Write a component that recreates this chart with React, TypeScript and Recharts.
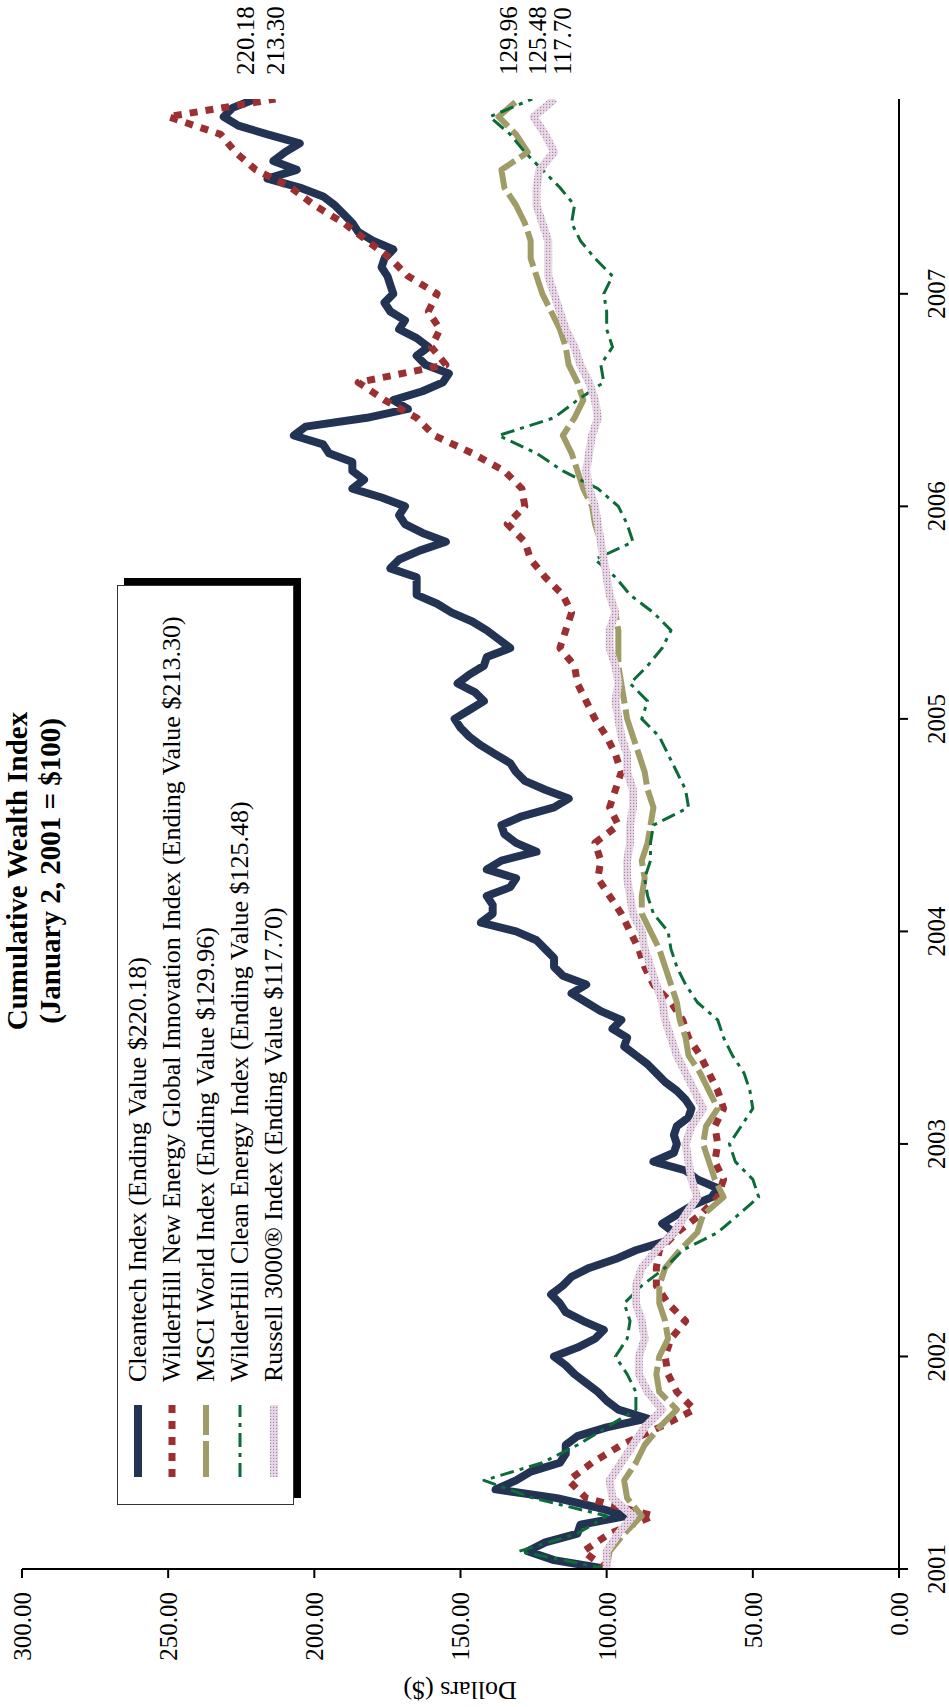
import { LineChart, Line, XAxis, YAxis } from 'recharts';

const FONT = '"Liberation Serif", "Times New Roman", serif';

const START_YEAR = 2001;
const END_MONTH = 83; // last observation, early Dec 2007
const YEAR_TICKS = [2001, 2002, 2003, 2004, 2005, 2006, 2007];
const VALUE_TICKS = [0, 50, 100, 150, 200, 250, 300];

// Cleantech Index, read twice a month (Jan 2001 .. Dec 2007)
const CLEANTECH = [
  100, 118, 127, 121, 110, 109, 93, 104, 117, 138, 131, 126,
  116, 114, 114, 110, 100, 86, 96, 100, 103, 107, 111, 114,
  118, 110, 104, 101, 108, 114, 116, 119, 115, 112, 106, 97,
  90, 80, 77, 81, 76, 71, 64, 62, 69, 73, 84, 77,
  76, 77, 76, 72, 71, 73, 76, 80, 83, 86, 90, 94,
  93, 98, 95, 102, 107, 112, 107, 115, 118, 118, 121, 124,
  131, 143, 139, 139, 141, 133, 131, 141, 136, 124, 131, 135,
  136, 129, 118, 113, 121, 128, 131, 133, 138, 143, 147, 150,
  152, 147, 142, 145, 151, 147, 142, 141, 133, 137, 141, 146,
  153, 158, 165, 165, 165, 174, 171, 164, 155, 163, 169, 171,
  169, 177, 187, 183, 187, 187, 195, 197, 207, 203, 182, 168,
  173, 163, 156, 154, 162, 165, 161, 165, 171, 169, 174, 176,
  173, 174, 175, 177, 176, 173, 180, 185, 187, 190, 193, 197,
  205, 216, 206, 214, 210, 205, 216, 226, 231, 228, 220.18,
];

// monthly readings, Jan 2001 .. Dec 2007
const NEX = [
  100, 108, 99, 84, 107, 113, 105, 95, 82, 70, 76, 79,
  80, 78, 73, 79, 83, 83, 82, 76, 68, 62, 60, 63,
  62, 63, 60, 62, 65, 68, 72, 74, 78, 84, 87, 89,
  92, 95, 99, 103, 102, 104, 96, 99, 97, 95, 97, 100,
  104, 107, 110, 111, 116, 114, 112, 115, 121, 126, 128, 134,
  128, 129, 135, 146, 159, 165, 176, 185, 155, 160, 157, 161,
  158, 168, 174, 182, 190, 200, 208, 220, 227, 232, 250, 213.3,
];

const MSCI = [
  100, 99, 94, 88, 93, 94, 90, 87, 82, 76, 82, 83,
  82, 79, 80, 82, 82, 80, 75, 69, 67, 60, 63, 65,
  67, 66, 62, 65, 68, 72, 73, 75, 76, 78, 80, 82,
  85, 88, 88, 87, 88, 86, 85, 84, 86, 87, 89, 91,
  93, 94, 95, 96, 96, 96, 97, 99, 100, 101, 102, 104,
  105, 108, 110, 112, 115, 111, 108, 110, 113, 114, 116, 119,
  122, 124, 126, 126, 128, 131, 135, 136, 127, 131, 137, 129.96,
];

const ECO = [
  100, 130, 110, 100, 125, 142, 122, 110, 100, 90, 90, 93,
  97, 93, 92, 94, 88, 80, 74, 62, 55, 48, 50, 56,
  58, 54, 50, 51, 53, 57, 60, 62, 69, 73, 76, 78,
  79, 84, 86, 87, 85, 85, 84, 72, 73, 76, 79, 82,
  88, 86, 92, 86, 81, 78, 84, 92, 97, 104, 91, 93,
  96, 103, 115, 124, 137, 118, 110, 101, 102, 98, 100, 100,
  101, 98, 104, 109, 112, 111, 116, 122, 128, 133, 140, 125.48,
];

const RUSSELL = [
  100, 100, 96, 91, 98, 99, 95, 91, 87, 81, 86, 89,
  89, 87, 88, 90, 90, 88, 83, 77, 73, 69, 71, 72,
  73, 71, 67, 70, 73, 76, 78, 80, 81, 83, 85, 87,
  88, 91, 92, 93, 93, 92, 92, 91, 91, 93, 93, 95,
  96, 97, 96, 97, 99, 99, 97, 99, 100, 101, 102, 103,
  104, 106, 107, 106, 105, 103, 104, 106, 109, 111, 114, 116,
  118, 120, 120, 120, 122, 124, 124, 123, 118, 121, 125, 117.7,
];

const NAMES = [
  'Cleantech Index (Ending Value $220.18)',
  'WilderHill New Energy Global Innovation Index (Ending Value $213.30)',
  'MSCI World Index (Ending Value $129.96)',
  'WilderHill Clean Energy Index (Ending Value $125.48)',
  'Russell 3000\u00AE Index (Ending Value $117.70)',
];
const END_TEXT = ['220.18', '213.30', '129.96', '125.48', '117.70'];

const toSeries = (vals: number[], perMonth: number) =>
  vals.map((v, i) => ({ t: START_YEAR + i / perMonth / 12, v }));

const STYLES = [
  { stroke: '#223354', strokeWidth: 8, strokeDasharray: undefined as string | undefined },
  { stroke: '#9b2f31', strokeWidth: 7, strokeDasharray: '8 8' },
  { stroke: '#a09c68', strokeWidth: 6, strokeDasharray: '36 6' },
  { stroke: '#0c6b38', strokeWidth: 3, strokeDasharray: '14 6 4 6' },
  { stroke: 'url(#russellDots)', strokeWidth: 8, strokeDasharray: undefined },
];
const LABEL_DY = [-10, 0, -11, 5, 8];

const endLabel = (count: number, k: number) => (p: any) => {
  if (p.index !== count - 1) return <g />;
  return (
    <text x={p.x + 24} y={p.y + LABEL_DY[k]} dominantBaseline="central" fontSize={25} fontFamily={FONT} fill="#000">
      {END_TEXT[k]}
    </text>
  );
};

const seriesList = [
  toSeries(CLEANTECH, 2),
  toSeries(NEX, 1),
  toSeries(MSCI, 1),
  toSeries(ECO, 1),
  toSeries(RUSSELL, 1),
];

function Dots({ id }: { id: string }) {
  return (
    <pattern id={id} width="3" height="3" patternUnits="userSpaceOnUse">
      <rect width="3" height="3" fill="#e9d8e8" />
      <rect width="1.2" height="1.2" fill="#a9879f" />
    </pattern>
  );
}

function Sample({ k }: { k: number }) {
  const s = STYLES[k];
  return (
    <svg width={72} height={14} style={{ display: 'block' }}>
      <defs><Dots id="legendDots" /></defs>
      <line x1={0} y1={7} x2={72} y2={7}
        stroke={k === 4 ? 'url(#legendDots)' : s.stroke}
        strokeWidth={s.strokeWidth} strokeDasharray={s.strokeDasharray} />
    </svg>
  );
}

export default function App() {
  return (
    <div style={{ width: 949, height: 1707, position: 'relative', overflow: 'hidden', background: '#fff' }}>
      <style>{'body{margin:0}'}</style>
      <div
        style={{
          position: 'absolute', left: 0, top: 0, width: 1707, height: 949,
          transformOrigin: '0 0', transform: 'translate(0px, 1707px) rotate(-90deg)',
          fontFamily: FONT, color: '#000',
        }}
      >
        <LineChart width={1707} height={949} margin={{ top: 22, right: 99, left: 0, bottom: 0 }}>
          <defs><Dots id="russellDots" /></defs>
          <XAxis
            type="number"
            dataKey="t"
            domain={[START_YEAR, START_YEAR + END_MONTH / 12]}
            ticks={YEAR_TICKS}
            allowDataOverflow
            height={50}
            axisLine={{ stroke: '#000', strokeWidth: 2 }}
            tickLine={{ stroke: '#000', strokeWidth: 2 }}
            tickSize={9}
            tickMargin={19}
            tick={{ fontSize: 25, fill: '#000', fontFamily: FONT }}
            tickFormatter={(v: number) => String(v)}
          />
          <YAxis
            type="number"
            domain={[0, 300]}
            ticks={VALUE_TICKS}
            width={138}
            axisLine={{ stroke: '#000', strokeWidth: 2 }}
            tickLine={{ stroke: '#000', strokeWidth: 2 }}
            tickSize={9}
            tickMargin={14}
            tick={{ fontSize: 25, fill: '#000', fontFamily: FONT }}
            tickFormatter={(v: number) => v.toFixed(2)}
            label={() => (
              <text x={17} y={460} transform="rotate(-90 17 460)" textAnchor="middle"
                dominantBaseline="central" fontSize={26} fontFamily={FONT} fill="#000">
                Dollars ($)
              </text>
            )}
          />
          {seriesList.map((data, k) => (
            <Line
              key={k}
              data={data}
              dataKey="v"
              type="linear"
              dot={false}
              activeDot={false}
              isAnimationActive={false}
              stroke={STYLES[k].stroke}
              strokeWidth={STYLES[k].strokeWidth}
              strokeDasharray={STYLES[k].strokeDasharray}
              strokeLinejoin="round"
              label={endLabel(data.length, k)}
            />
          ))}
        </LineChart>

        <div style={{
          position: 'absolute', left: 536, top: 1, width: 600, textAlign: 'center',
          fontWeight: 'bold', fontSize: 29, lineHeight: '33px',
        }}>
          <div>Cumulative Wealth Index</div>
          <div>(January 2, 2001 = $100)</div>
        </div>

        <div style={{
          position: 'absolute', left: 202, top: 117, width: 920, height: 177, boxSizing: 'border-box',
          border: '1px solid #333', background: '#fff', boxShadow: '7px 7px 0 #000',
          paddingTop: 3,
        }}>
          {NAMES.map((name, k) => (
            <div key={k} style={{ display: 'flex', alignItems: 'center', height: 34, fontSize: 26 }}>
              <div style={{ marginLeft: 27, width: 72 }}><Sample k={k} /></div>
              <div style={{ marginLeft: 23, whiteSpace: 'nowrap' }}>{name}</div>
            </div>
          ))}
        </div>
      </div>
    </div>
  );
}
